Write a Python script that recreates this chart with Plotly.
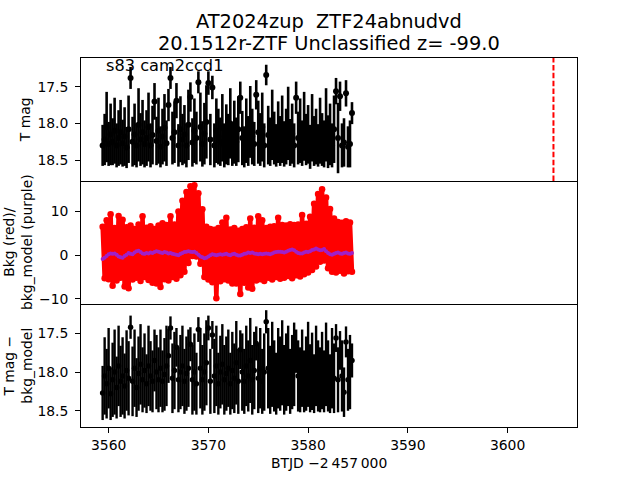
import plotly.graph_objects as go
from plotly.subplots import make_subplots

# ---------------- data ----------------
t = [3559.4, 3559.6, 3559.8, 3560.0, 3560.2, 3560.4, 3560.6, 3560.8, 3561.0, 3561.2,
     3561.4, 3561.6, 3561.8, 3562.0, 3562.2, 3562.4, 3562.6, 3562.8, 3563.0, 3563.2,
     3563.4, 3563.6, 3563.8, 3564.0, 3564.2, 3564.4, 3564.6, 3564.8, 3565.0, 3565.2,
     3565.4, 3565.6, 3565.8, 3566.0, 3566.2, 3566.4, 3566.6, 3566.8, 3567.0, 3567.2,
     3567.4, 3567.6, 3567.8, 3568.0, 3568.2, 3568.4, 3568.6, 3568.8, 3569.0, 3569.2,
     3569.4, 3569.6, 3569.8, 3570.0, 3570.2, 3570.4, 3570.6, 3570.8, 3571.0, 3571.2,
     3571.4, 3571.6, 3571.8, 3572.0, 3572.2, 3572.4, 3572.6, 3572.8, 3573.0, 3573.2,
     3573.4, 3573.6, 3573.8, 3574.0, 3574.2, 3574.4, 3574.6, 3574.8, 3575.0, 3575.2,
     3575.4, 3575.6, 3575.8, 3576.0, 3576.2, 3576.4, 3576.6, 3576.8, 3577.0, 3577.2,
     3577.4, 3577.6, 3577.8, 3578.0, 3578.2, 3578.4, 3578.6, 3578.8, 3579.0, 3579.2,
     3579.4, 3579.6, 3579.8, 3580.0, 3580.2, 3580.4, 3580.6, 3580.8, 3581.0, 3581.2,
     3581.4, 3581.6, 3581.8, 3582.0, 3582.2, 3582.4, 3582.6, 3582.8, 3583.0, 3583.2,
     3583.4, 3583.6, 3583.8, 3584.0, 3584.2, 3584.4]

tmag = [18.30, 18.22, 18.05, 18.28, 18.15, 18.25, 18.10, 18.30, 18.20, 18.12,
        18.27, 18.18, 18.33, 18.08, 17.38, 18.25, 18.15, 18.30, 18.02, 18.22,
        18.12, 18.28, 18.20, 18.05, 18.30, 18.16, 17.70, 18.24, 18.10, 18.32,
        18.18, 18.06, 18.27, 17.75, 17.38, 18.20, 18.12, 17.69, 18.30, 18.08,
        18.22, 18.15, 18.30, 18.02, 17.64, 18.26, 18.10, 18.20, 17.44, 18.05,
        18.28, 18.14, 17.98, 17.45, 18.22, 17.51, 18.30, 18.10, 18.18, 18.25,
        18.06, 18.30, 18.15, 18.22, 18.00, 18.28, 18.12, 18.25, 18.08, 17.65,
        18.20, 18.32, 18.10, 18.24, 17.98, 18.18, 18.28, 17.61, 18.12, 18.22,
        18.05, 18.30, 17.34, 18.16, 18.25, 18.02, 18.20, 18.30, 18.12, 18.24,
        18.08, 18.28, 18.18, 18.00, 18.26, 18.14, 18.30, 17.65, 18.20, 18.10,
        18.27, 18.04, 18.22, 18.15, 18.32, 18.06, 18.24, 18.18, 18.30, 18.10,
        18.22, 18.28, 18.02, 18.25, 18.15, 18.30, 18.08, 17.56, 18.20, 17.63,
        18.30, 18.26, 17.59, 18.32, 18.28, 17.86]

tmag_err = [0.28, 0.35, 0.48, 0.30, 0.42, 0.32, 0.45, 0.30, 0.38, 0.44,
            0.32, 0.40, 0.28, 0.46, 0.15, 0.34, 0.42, 0.30, 0.50, 0.36,
            0.44, 0.32, 0.38, 0.47, 0.30, 0.40, 0.25, 0.33, 0.45, 0.28,
            0.38, 0.46, 0.31, 0.22, 0.15, 0.36, 0.42, 0.24, 0.29, 0.45,
            0.35, 0.40, 0.30, 0.48, 0.20, 0.33, 0.44, 0.36, 0.15, 0.47,
            0.31, 0.42, 0.50, 0.16, 0.35, 0.16, 0.30, 0.44, 0.38, 0.33,
            0.46, 0.30, 0.41, 0.35, 0.48, 0.30, 0.43, 0.33, 0.45, 0.22,
            0.37, 0.28, 0.44, 0.34, 0.49, 0.38, 0.30, 0.20, 0.43, 0.36,
            0.47, 0.30, 0.14, 0.40, 0.33, 0.48, 0.36, 0.29, 0.42, 0.34,
            0.46, 0.31, 0.38, 0.50, 0.32, 0.41, 0.30, 0.22, 0.36, 0.44,
            0.31, 0.47, 0.35, 0.40, 0.30, 0.46, 0.34, 0.38, 0.29, 0.45,
            0.36, 0.32, 0.50, 0.36, 0.42, 0.30, 0.46, 0.18, 0.48, 0.20,
            0.30, 0.33, 0.18, 0.28, 0.32, 0.15]

bkg = [6.5, -5.3, 8.0, -5.5, 9.4, -7.0, 6.2, -5.8, 9.0, -5.2,
       8.1, -7.2, 6.4, -7.6, 6.8, -5.6, 6.0, -5.2, 7.0, -5.9,
       8.9, -5.0, 6.3, -5.7, 6.6, -6.3, 6.0, -6.5, 6.8, -7.3,
       7.3, -5.5, 6.9, -5.8, 8.9, -5.0, 7.0, -5.4, 10.0, -4.6,
       12.5, -3.8, 14.5, -1.8, 15.8, -0.2, 16.0, -0.3, 14.2, -2.0,
       10.5, -5.0, 6.5, -5.6, 6.0, -6.2, 5.8, -9.9, 6.2, -6.0,
       7.5, -5.5, 8.6, -5.8, 5.9, -6.5, 6.2, -6.5, 5.6, -8.9,
       6.0, -6.3, 6.4, -7.4, 8.4, -7.7, 6.3, -5.8, 8.9, -5.5,
       8.0, -5.9, 6.2, -5.2, 6.5, -5.6, 6.6, -5.0, 8.6, -5.4,
       6.9, -5.2, 6.8, -4.8, 7.1, -5.3, 6.9, -4.6, 7.0, -4.9,
       9.2, -4.4, 7.2, -4.0, 8.8, -3.4, 11.8, -2.6, 14.0, -1.5,
       15.1, -1.2, 13.2, -3.0, 10.6, -3.8, 8.4, -4.0, 7.6, -3.6,
       7.4, -4.2, 7.8, -3.7, 7.5, -3.8]

bkg_model = [-0.9, -0.6, -0.2, 0.2, 0.4, 0.3, 0.4, 0.1, -0.3, -0.5,
             -0.6, -0.2, 0.1, 0.5, 0.3, 0.2, 0.6, 0.9, 1.0, 0.7,
             0.4, 0.3, 0.5, 0.4, 0.6, 0.5, 0.7, 0.9, 0.8, 0.6,
             0.5, 0.7, 0.6, 0.4, 0.5, 0.3, 0.2, 0.1, 0.0, 0.3,
             0.5, 0.7, 0.8, 0.9, 0.8, 0.7, 0.8, 0.5, 0.1, -0.3,
             -0.5, -0.7, -0.6, -0.3, 0.0, 0.2, 0.1, 0.0, 0.1, 0.2,
             0.1, 0.2, 0.3, 0.1, 0.0, 0.2, 0.3, 0.1, -0.1, -0.1,
             0.1, 0.3, 0.4, 0.6, 0.5, 0.6, 0.4, 0.3, 0.2, 0.3,
             0.2, 0.3, 0.4, 0.3, 0.2, 0.4, 0.6, 0.7, 0.8, 0.8,
             0.7, 0.6, 0.8, 1.0, 1.2, 1.3, 1.1, 0.8, 0.5, 0.4,
             0.4, 0.6, 0.8, 0.7, 0.9, 1.2, 1.3, 1.5, 1.3, 1.1,
             1.2, 1.4, 0.9, 0.5, 0.2, 0.1, 0.3, 0.5, 0.6, 0.4,
             0.3, 0.5, 0.6, 0.4, 0.3, 0.5]

tmag_sub = [18.27, 18.05, 18.15, 17.95, 18.28, 18.10, 18.00, 18.20, 17.92, 18.12,
            18.05, 18.18, 17.98, 18.08, 17.42, 18.12, 17.95, 18.20, 18.02, 17.90,
            18.10, 17.98, 18.15, 17.92, 18.05, 18.12, 17.85, 18.00, 18.10, 17.95,
            18.12, 18.03, 17.92, 17.79, 17.43, 18.08, 17.98, 17.68, 18.10, 18.00,
            17.92, 18.12, 18.02, 17.95, 17.64, 18.10, 18.00, 18.15, 17.45, 17.95,
            18.10, 18.00, 17.88, 17.43, 18.12, 17.52, 18.05, 17.92, 18.15, 18.00,
            17.90, 18.10, 18.02, 17.95, 18.15, 17.98, 18.08, 17.88, 18.12, 17.71,
            18.00, 18.12, 17.92, 18.05, 17.85, 18.10, 17.98, 17.63, 18.08, 17.95,
            18.12, 18.00, 17.35, 17.95, 18.10, 17.90, 18.05, 18.15, 17.95, 18.02,
            17.88, 18.10, 18.00, 17.92, 18.12, 18.00, 17.90, 17.73, 18.05, 18.10,
            17.95, 18.12, 18.02, 17.90, 18.08, 17.99, 18.15, 17.92, 18.05, 18.10,
            17.98, 18.12, 17.90, 18.05, 18.15, 17.95, 18.08, 17.56, 18.10, 17.72,
            18.05, 18.26, 17.61, 18.10, 18.00, 17.85]

tmag_sub_err = [0.35, 0.50, 0.45, 0.52, 0.34, 0.48, 0.55, 0.40, 0.52, 0.46,
                0.50, 0.42, 0.52, 0.48, 0.15, 0.45, 0.50, 0.38, 0.48, 0.52,
                0.42, 0.48, 0.38, 0.52, 0.45, 0.40, 0.40, 0.48, 0.42, 0.50,
                0.40, 0.47, 0.52, 0.35, 0.15, 0.45, 0.50, 0.25, 0.42, 0.48,
                0.52, 0.42, 0.48, 0.50, 0.22, 0.45, 0.50, 0.40, 0.16, 0.52,
                0.45, 0.50, 0.55, 0.16, 0.42, 0.18, 0.48, 0.52, 0.40, 0.47,
                0.52, 0.45, 0.48, 0.50, 0.40, 0.50, 0.45, 0.54, 0.42, 0.25,
                0.50, 0.42, 0.52, 0.46, 0.55, 0.45, 0.50, 0.22, 0.45, 0.52,
                0.42, 0.50, 0.15, 0.52, 0.44, 0.55, 0.46, 0.40, 0.52, 0.48,
                0.55, 0.45, 0.50, 0.52, 0.42, 0.48, 0.54, 0.28, 0.46, 0.42,
                0.50, 0.40, 0.48, 0.55, 0.44, 0.50, 0.38, 0.52, 0.46, 0.42,
                0.50, 0.40, 0.54, 0.46, 0.38, 0.52, 0.45, 0.18, 0.42, 0.25,
                0.46, 0.32, 0.20, 0.40, 0.48, 0.22]

t_disc = 3604.6

title_1 = "AT2024zup  ZTF24abnudvd"
title_2 = "20.1512r-ZTF Unclassified z= -99.0"
sector_label = "s83 cam2ccd1"
x_ticks = [3560, 3570, 3580, 3590, 3600]
mag_ticks = [17.5, 18.0, 18.5]
bkg_ticks = [-10, 0, 10]

# ---------------- figure ----------------
FONT = "DejaVu Sans"
L, R, T, B = 80.7, 63.3, 58.0, 52.8
PW = 640 - L - R
PH = 480 - T - B
PURPLE = "#a020c8"

fig = make_subplots(rows=3, cols=1, shared_xaxes=True, vertical_spacing=0)

fig.add_trace(go.Scatter(
    x=t, y=tmag, mode="markers",
    marker=dict(color="black", size=6),
    error_y=dict(type="data", array=tmag_err, color="black", thickness=2.6, width=0),
    showlegend=False), row=1, col=1)

fig.add_trace(go.Scatter(
    x=t, y=bkg, mode="lines+markers",
    line=dict(color="red", width=4.5),
    marker=dict(color="red", size=6.5),
    showlegend=False), row=2, col=1)

fig.add_trace(go.Scatter(
    x=t, y=bkg_model, mode="lines+markers",
    line=dict(color=PURPLE, width=2),
    marker=dict(color=PURPLE, size=4),
    showlegend=False), row=2, col=1)

fig.add_trace(go.Scatter(
    x=t, y=tmag_sub, mode="markers",
    marker=dict(color="black", size=5.5),
    error_y=dict(type="data", array=tmag_sub_err, color="black", thickness=2.4, width=0),
    showlegend=False), row=3, col=1)

fig.add_vline(x=t_disc, line=dict(color="#ff0000", width=2, dash="5.5px,2.4px"), row=1, col=1)

axis_common = dict(showline=True, linecolor="black", linewidth=0.9,
                   showgrid=False, zeroline=False,
                   tickfont=dict(family=FONT, size=13.9, color="black"))

xr = [3557.23, 3606.96]
for i in (1, 2, 3):
    xa = dict(axis_common, range=xr, tickvals=x_ticks, mirror=(i == 1))
    if i < 3:
        xa.update(showticklabels=False, ticks="")
    else:
        xa.update(ticks="outside", ticklen=4.9, tickwidth=0.9, tickcolor="black")
    fig.update_xaxes(xa, row=i, col=1)

ya = dict(axis_common, mirror=True, ticks="outside", ticklen=4.9, tickwidth=0.9,
          tickcolor="black", ticklabelstandoff=4)
fig.update_yaxes(ya, row=1, col=1, range=[18.786, 17.108], tickvals=mag_ticks, tickformat=".1f")
fig.update_yaxes(ya, row=2, col=1, range=[-11.2, 17.0], tickvals=bkg_ticks)
fig.update_yaxes(ya, row=3, col=1, range=[18.71, 17.12], tickvals=mag_ticks, tickformat=".1f")

def px_x(p):
    return (p - L) / PW

def px_y(p):
    return 1 - (p - T) / PH

ann = []
ann.append(dict(text=title_1, x=px_x(328.7), y=px_y(21), xref="paper", yref="paper",
                xanchor="center", yanchor="middle", showarrow=False,
                font=dict(family=FONT, size=19.4, color="black")))
ann.append(dict(text=title_2, x=px_x(328.7), y=px_y(43), xref="paper", yref="paper",
                xanchor="center", yanchor="middle", showarrow=False,
                font=dict(family=FONT, size=19.4, color="black")))
ann.append(dict(text=sector_label, x=px_x(104), y=px_y(65.5), xref="paper", yref="paper",
                xanchor="left", yanchor="middle", showarrow=False,
                font=dict(family=FONT, size=16.2, color="black")))
lab_font = dict(family=FONT, size=13.9, color="black")
ann.append(dict(text="T mag", x=px_x(25.5), y=px_y(119.5), xref="paper", yref="paper",
                textangle=-90, xanchor="center", yanchor="middle", showarrow=False, font=lab_font))
ann.append(dict(text="Bkg (red)/<br>bkg_model (purple)", x=px_x(18.3), y=px_y(242.5),
                xref="paper", yref="paper", textangle=-90, xanchor="center", yanchor="middle",
                showarrow=False, font=lab_font))
ann.append(dict(text="T mag \u2212<br>bkg_model", x=px_x(18.0), y=px_y(365.5),
                xref="paper", yref="paper", textangle=-90, xanchor="center", yanchor="middle",
                showarrow=False, font=lab_font))
ann.append(dict(text="BTJD \u22122\u2009457\u2009000", x=px_x(328.7), y=px_y(463),
                xref="paper", yref="paper", xanchor="center", yanchor="middle",
                showarrow=False, font=lab_font))

fig.update_layout(
    width=640, height=480,
    margin=dict(l=L, r=R, t=T, b=B, pad=0),
    paper_bgcolor="white", plot_bgcolor="white",
    font=dict(family=FONT, color="black"),
    annotations=list(fig.layout.annotations) + ann,
)

fig.write_html("out.html")
